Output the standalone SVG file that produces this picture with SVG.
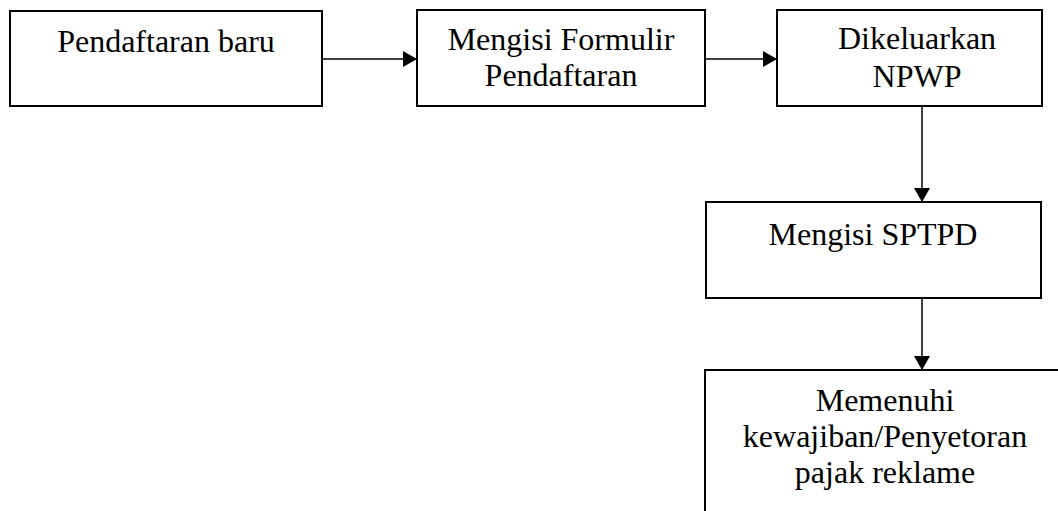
<svg xmlns="http://www.w3.org/2000/svg" width="1058" height="511" viewBox="0 0 1058 511">
<style>
.box{fill:#fff;stroke:#000;stroke-width:2}
.lbl{font-family:"Liberation Serif","Times New Roman",serif;font-size:32px;fill:#000;text-anchor:middle}
.con{stroke:#000;stroke-width:1.5;fill:none}
</style>
<defs>
<marker id="ah" markerUnits="userSpaceOnUse" markerWidth="16" markerHeight="16" refX="14" refY="8" orient="auto">
<path d="M0,0 L14,8 L0,16 Z" fill="#000"/>
</marker>
</defs>
<rect width="1058" height="511" fill="#fff"/>
<g id="connectors">
<line class="con" x1="322" y1="59" x2="417" y2="59" marker-end="url(#ah)"/>
<line class="con" x1="705" y1="59" x2="777" y2="59" marker-end="url(#ah)"/>
<line class="con" x1="922" y1="106" x2="922" y2="202" marker-end="url(#ah)"/>
<line class="con" x1="922" y1="298" x2="922" y2="370" marker-end="url(#ah)"/>
</g>
<g id="n1">
<rect class="box" x="10" y="11" width="312" height="95"/>
<text class="lbl" x="166" y="52">Pendaftaran baru</text>
</g>
<g id="n2">
<rect class="box" x="417" y="10" width="288" height="96"/>
<text class="lbl" x="561" y="50">Mengisi Formulir</text>
<text class="lbl" x="561" y="86">Pendaftaran</text>
</g>
<g id="n3">
<rect class="box" x="777" y="10" width="265" height="96"/>
<text class="lbl" x="917" y="49">Dikeluarkan</text>
<text class="lbl" x="917" y="87">NPWP</text>
</g>
<g id="n4">
<rect class="box" x="706" y="202" width="335" height="96"/>
<text class="lbl" x="873" y="245">Mengisi SPTPD</text>
</g>
<g id="n5">
<rect class="box" x="705" y="370" width="360" height="160"/>
<text class="lbl" x="885" y="411">Memenuhi</text>
<text class="lbl" x="885" y="447">kewajiban/Penyetoran</text>
<text class="lbl" x="885" y="483">pajak reklame</text>
</g>
</svg>
